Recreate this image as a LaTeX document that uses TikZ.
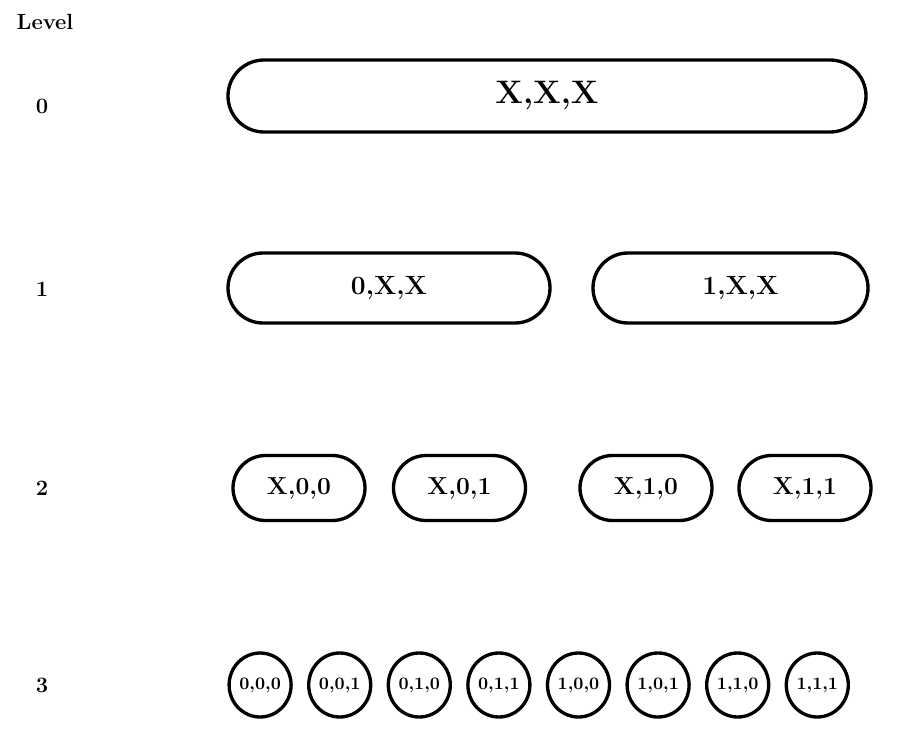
\documentclass[tikz,border=0pt]{standalone}
\usetikzlibrary{shapes.misc,shapes.geometric}
\begin{document}
\begin{tikzpicture}[x=0.2mm,y=-0.2mm,
  lvl/.style={font=\fontsize{12.5}{15}\bfseries},
  pill/.style={rounded rectangle,draw,line width=1.9pt,inner sep=0pt},
  bead/.style={ellipse,draw,line width=1.9pt,inner sep=0pt,minimum width=12.4mm,minimum height=12.8mm,font=\fontsize{10}{12}\bfseries}]
\useasboundingbox (0,0) rectangle (917,734);

\node[lvl] (level) at (45,22) {Level};
\node[lvl] (n0) at (42,106) {0};
\node[lvl] (n1) at (42,289) {1};
\node[lvl] (n2) at (42,488) {2};
\node[lvl] (n3) at (42,685) {3};

\node[pill,minimum width=127.6mm,minimum height=14.4mm,font=\fontsize{18.5}{22}\bfseries] (xxx) at (547,96) {X,X,X};

\node[pill,minimum width=64.4mm,minimum height=14mm,font=\fontsize{15}{18}\bfseries] (zxx) at (389,288) {0,X,X};
\node[pill,minimum width=55mm,minimum height=14mm,font=\fontsize{15}{18}\bfseries] (oxx) at (730.5,288) {\hspace*{4mm}1,X,X};

\node[pill,minimum width=26.4mm,minimum height=13mm,font=\fontsize{14}{17}\bfseries] (xzz) at (299,488) {X,0,0};
\node[pill,minimum width=26.4mm,minimum height=13mm,font=\fontsize{14}{17}\bfseries] (xzo) at (459.5,488) {X,0,1};
\node[pill,minimum width=26.4mm,minimum height=13mm,font=\fontsize{14}{17}\bfseries] (xoz) at (646,488) {X,1,0};
\node[pill,minimum width=26.4mm,minimum height=13mm,font=\fontsize{14}{17}\bfseries] (xoo) at (805,488) {X,1,1};

\foreach \nm/\lab [count=\i] in {000/{0,0,0},001/{0,0,1},010/{0,1,0},011/{0,1,1},100/{1,0,0},101/{1,0,1},110/{1,1,0},111/{1,1,1}}
  \node[bead] (b\nm) at (180.5+79.6*\i,685) {\lab};
\end{tikzpicture}
\end{document}
